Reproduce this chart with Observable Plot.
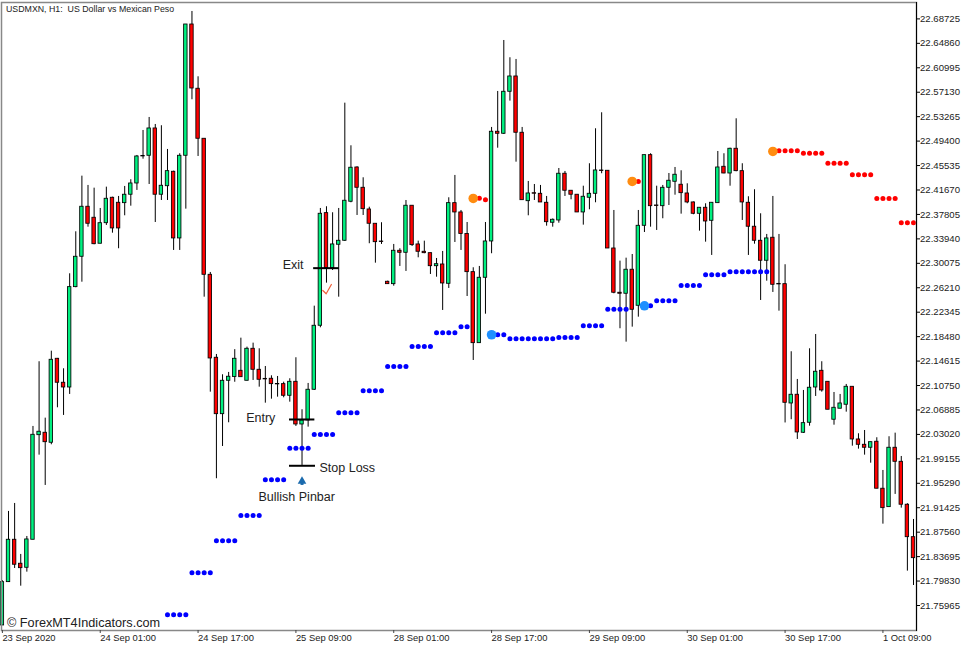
<!DOCTYPE html>
<html><head><meta charset="utf-8">
<script src="https://cdn.jsdelivr.net/npm/d3@7"></script>
<script src="https://cdn.jsdelivr.net/npm/@observablehq/plot@0.6"></script>
<style>html,body{margin:0;padding:0;background:#fff}svg{display:block}</style>
</head><body><div id="chart"></div>
<script>
const opens = [
21.7281,21.7966,21.8636,21.8257,21.8193,21.8636,22.0290,22.0328,22.0170,22.1498,
22.1119,22.1044,22.2631,22.3111,22.3902,22.3728,22.3317,22.3642,22.4044,22.3965,
22.3959,22.4092,22.4270,22.4705,22.4708,22.5140,22.4092,22.4227,22.4455,22.3401,
22.4708,22.6784,22.5768,22.4977,22.2826,22.1514,22.0622,22.1150,22.1210,22.1308,
22.1150,22.1656,22.1324,22.1180,22.1182,22.1100,22.1097,22.0913,22.1134,22.0459,
22.0523,22.1008,22.2020,22.3801,22.2931,22.3301,22.3364,22.3981,22.4523,22.4202,
22.3859,22.3633,22.3352,22.2716,22.2678,22.3206,22.3174,22.3918,22.3306,22.3190,
22.3168,22.2962,22.2989,22.2684,22.3959,22.3812,22.3472,22.2868,22.1745,22.2779,
22.3353,22.5088,22.5056,22.5720,22.5962,22.5072,22.3990,22.4116,22.4107,22.3965,
22.3649,22.3685,22.4424,22.4155,22.4092,22.3812,22.4044,22.4107,22.4475,22.4471,
22.3242,22.2542,22.2526,22.2906,22.2336,22.3601,22.4718,22.3922,22.3911,22.4202,
22.4297,22.4250,22.4112,22.3970,22.3791,22.3886,22.3680,22.3959,22.4534,22.4428,
22.4819,22.4465,22.3965,22.3586,22.3364,22.3048,22.3412,22.2682,22.2678,22.0791,
22.0929,22.0328,22.0486,22.1044,22.1308,22.1134,22.0534,22.0708,22.0771,22.1055,
22.0222,22.0138,22.0091,22.0186,21.9443,21.9152,22.0091,21.9869,21.9190,21.8677];
const closes = [
21.7966,21.8636,21.8241,21.8187,21.8641,22.0296,22.0344,22.0179,22.1482,22.1119,
22.1044,22.2631,22.3111,22.3902,22.3633,22.3310,22.3642,22.4028,22.3559,22.3559,
22.4092,22.4270,22.4697,22.4698,22.5140,22.4092,22.4234,22.4465,22.3401,22.4708,
22.6784,22.5772,22.4977,22.2826,22.1503,22.0622,22.1150,22.1214,22.1498,22.1207,
22.1656,22.1324,22.1166,22.1172,22.1097,22.1093,22.0913,22.1134,22.0459,22.0523,
22.1008,22.2020,22.3791,22.2931,22.3306,22.3364,22.3997,22.4519,22.4202,22.3864,
22.3633,22.3342,22.3344,22.2678,22.3206,22.3174,22.3918,22.3295,22.3190,22.3168,
22.2962,22.2994,22.2689,22.3959,22.3812,22.3472,22.2868,22.1745,22.2779,22.3353,
22.5088,22.5056,22.5720,22.5962,22.5072,22.4006,22.4112,22.4108,22.3970,22.3658,
22.3696,22.4424,22.4155,22.4092,22.3812,22.4060,22.4107,22.4476,22.4467,22.3242,
22.2542,22.2526,22.2906,22.2273,22.3601,22.4718,22.3911,22.3914,22.4202,22.4313,
22.4408,22.4117,22.3970,22.3791,22.3886,22.3669,22.3965,22.4523,22.4428,22.4819,
22.4465,22.3970,22.3586,22.3364,22.3048,22.3401,22.2668,22.2674,22.0802,22.0929,
22.0333,22.0480,22.1040,22.1293,22.0997,22.0692,22.0723,22.0791,22.1055,22.0222,
22.0138,22.0091,22.0179,21.9443,21.9136,22.0091,21.9869,21.9190,21.8677,21.8345];
const highs = [
21.7990,21.9084,21.9210,21.8404,21.8688,22.0428,22.1451,22.0559,22.1618,22.1503,
22.1340,22.2842,22.3506,22.4386,22.4239,22.4196,22.3875,22.4212,22.4053,22.4065,
22.4223,22.4329,22.4713,22.5108,22.5314,22.5203,22.5183,22.4808,22.4465,22.4740,
22.6784,22.6990,22.5957,22.4977,22.2863,22.1566,22.1245,22.1282,22.1642,22.1824,
22.1682,22.1745,22.1656,22.1376,22.1229,22.1218,22.1128,22.1182,22.1514,22.0692,
22.1108,22.2330,22.3875,22.3902,22.3807,22.3875,22.5540,22.4866,22.4534,22.4360,
22.3895,22.3633,22.3649,22.2725,22.3306,22.3238,22.4001,22.3918,22.3358,22.3358,
22.3168,22.3084,22.3195,22.4044,22.4397,22.3843,22.3653,22.2937,22.2958,22.3653,
22.5156,22.5725,22.6531,22.6258,22.6231,22.5156,22.4302,22.4254,22.4239,22.4065,
22.3709,22.4507,22.4460,22.4155,22.4092,22.4227,22.4582,22.5135,22.5388,22.4471,
22.3843,22.3042,22.3089,22.3147,22.3843,22.4718,22.4740,22.4227,22.4239,22.4428,
22.4523,22.4471,22.4265,22.3978,22.3886,22.3949,22.3965,22.4776,22.4740,22.4828,
22.5293,22.4582,22.4060,22.4171,22.3791,22.3464,22.4065,22.3464,22.2985,22.1609,
22.1171,22.0997,22.1656,22.1882,22.1451,22.1134,22.0965,22.0934,22.1092,22.1055,
22.0312,22.0364,22.0179,22.0249,21.9732,22.0265,22.0322,21.9953,21.9206,21.8957];
const lows = [
21.7281,21.7960,21.8182,21.7902,21.8124,21.8636,21.9974,21.9495,22.0138,22.0723,
22.0602,22.0934,22.2621,22.2709,22.3579,22.3301,22.3317,22.3606,22.3484,22.3238,
22.3759,22.3911,22.4160,22.4654,22.4254,22.3653,22.4001,22.4001,22.3211,22.3211,
22.3864,22.5594,22.4697,22.2472,22.0970,21.9601,22.0111,22.0486,22.1127,22.1207,
22.1150,22.1155,22.1049,22.0796,22.0859,22.0891,22.0881,22.0812,22.0428,21.9811,
22.0417,22.0997,22.1988,22.2694,22.2894,22.2472,22.3353,22.3965,22.3764,22.3764,
22.3317,22.3010,22.3306,22.2678,22.2646,22.2958,22.2879,22.3274,22.3095,22.3159,
22.2831,22.2788,22.2262,22.2610,22.3337,22.3211,22.2483,22.1471,22.1745,22.2203,
22.3159,22.4828,22.5045,22.5572,22.4607,22.4006,22.3759,22.4001,22.3970,22.3595,
22.3579,22.3642,22.4065,22.4012,22.3812,22.3611,22.3854,22.3965,22.4424,22.3242,
22.2526,22.1973,22.1761,22.1998,22.2156,22.3495,22.3579,22.3527,22.3712,22.3922,
22.4085,22.3785,22.3949,22.3775,22.3516,22.3342,22.3132,22.3959,22.4424,22.4227,
22.4455,22.3685,22.3132,22.3310,22.2420,22.2725,22.2547,22.2251,22.0483,22.0534,
22.0222,22.0317,22.0432,22.0902,22.0970,22.0692,22.0448,22.0708,22.0654,22.0116,
22.0069,21.9974,21.9847,21.9443,21.8883,21.9152,21.9353,21.9136,21.8140,21.7913];

const blueBars = [27,28,29,30,31,32,33,34,35,36,37,38,39,40,41,42,43,44,45,46,47,48,49,50,51,52,53,54,55,56,57,58,59,60,61,62,63,64,65,66,67,68,69,70,71,72,73,74,75,76,
80,81,82,83,84,85,86,87,88,89,90,91,92,93,94,95,96,97,98,99,100,101,102,
105,106,107,108,109,110,111,112,113,114,115,116,117,118,119,120,121,122,123,124,125];
const blueLevels = [21.7450,21.7450,21.7450,21.7450,21.8114,21.8114,21.8114,21.8114,21.8620,21.8620,21.8620,21.8620,21.9020,21.9020,21.9020,21.9020,21.9585,21.9585,21.9585,21.9585,22.0085,22.0085,22.0085,22.0085,22.0301,22.0301,22.0301,22.0301,22.0644,22.0644,22.0644,22.0644,22.0992,22.0992,22.0992,22.0992,22.1376,22.1376,22.1376,22.1376,22.1693,22.1693,22.1693,22.1693,22.1909,22.1909,22.1909,22.1909,22.2004,22.2004,
22.1878,22.1878,22.1878,22.1814,22.1814,22.1814,22.1814,22.1814,22.1814,22.1814,22.1814,22.1835,22.1835,22.1835,22.1835,22.2020,22.2020,22.2020,22.2020,22.2283,22.2283,22.2283,22.2283,
22.2336,22.2336,22.2415,22.2415,22.2415,22.2415,22.2657,22.2657,22.2657,22.2657,22.2826,22.2826,22.2826,22.2826,22.2874,22.2874,22.2874,22.2874,22.2874,22.2874,22.2874];
const redBars = [78,79,104,127,128,129,130,131,132,133,134,135,136,137,138,139,140,141,142,143,144,145,146,147,148,149];
const redLevels = [22.4038,22.4012,22.4302,22.4787,22.4787,22.4787,22.4787,22.4749,22.4749,22.4749,22.4749,22.4591,22.4591,22.4591,22.4591,22.4408,22.4408,22.4408,22.4408,22.4033,22.4033,22.4033,22.4033,22.3649,22.3649,22.3649];
const startDownBars = [77,103,126];
const startDownLevels = [22.4033,22.4302,22.4776];
const startUpBars = [80,105];
const startUpLevels = [22.1878,22.2336];

const levelNames = ["Exit","Entry","Stop Loss"];
const levelPrices = [22.2931,22.0538,21.9806];
const levelFrom = [50.9,46.95,46.95];
const levelTo = [55.1,51.1,51.2];
const noteTexts = ["Exit","Entry","Stop Loss","Bullish Pinbar"];
const noteBars = [45.84,39.87,51.86,41.88];
const notePrices = [22.2974,22.0559,21.9774,21.9310];
const checkBars = [52.4,52.95,53.8];
const checkPrices = [22.2578,22.2526,22.2673];
const arrowBar = 49;
const arrowStem = [21.9495,21.9530];
const arrowHead = 21.9560;

const priceTicks = [22.68725,22.6486,22.60995,22.5713,22.53265,22.494,22.45535,22.4167,22.37805,22.3394,22.30075,22.2621,22.22345,22.1848,22.14615,22.1075,22.06885,22.0302,21.99155,21.9529,21.91425,21.8756,21.83695,21.7983,21.75965];
const timeTickBars = [0,16,32,48,64,80,96,112,128,144];
const timeTickLabels = ["23 Sep 2020","24 Sep 01:00","24 Sep 17:00","25 Sep 09:00","28 Sep 01:00","28 Sep 17:00","29 Sep 09:00","30 Sep 01:00","30 Sep 17:00","1 Oct 09:00"];
const titleText = "USDMXN, H1:\u00a0\u00a0US Dollar vs Mexican Peso";
const watermark = "\u00a9 ForexMT4Indicators.com";

const bars = opens.map((o,i)=>({i,open:o,close:closes[i],high:highs[i],low:lows[i]}));
const half = 0.28;
const zip = (xs,ys)=>xs.map((x,k)=>({x,y:ys[k]}));
const levels = levelNames.map((n,k)=>({name:n,y:levelPrices[k],x1:levelFrom[k],x2:levelTo[k]}));
const notes = noteTexts.map((t,k)=>({t,x:noteBars[k],y:notePrices[k]}));
const font = "'Liberation Sans', Arial, sans-serif";

const chart = Plot.plot({
  width:977, height:650,
  marginLeft:1, marginTop:2, marginRight:61, marginBottom:20,
  style:{fontFamily:font, background:"#fff", color:"#222"},
  x:{type:"linear", domain:[0,149], range:[1.9,913]},
  y:{type:"linear", domain:[21.75965,22.68725], range:[605,18.4]},
  marks:[
    Plot.ruleX(bars,{x:"i",y1:"low",y2:"high",stroke:"#000",strokeWidth:1}),
    Plot.rect(bars,{filter:d=>d.close>=d.open,x1:d=>d.i-half,x2:d=>d.i+half,y1:"open",y2:"close",fill:"#00f080",stroke:"#000",strokeWidth:0.85}),
    Plot.rect(bars,{filter:d=>d.close<d.open,x1:d=>d.i-half,x2:d=>d.i+half,y1:"open",y2:"close",fill:"#ff0000",stroke:"#000",strokeWidth:0.85}),
    Plot.dot(zip(blueBars,blueLevels),{x:"x",y:"y",r:2.5,fill:"#0000ff"}),
    Plot.dot(zip(redBars,redLevels),{x:"x",y:"y",r:2.5,fill:"#ff0000"}),
    Plot.dot(zip(startDownBars,startDownLevels),{x:"x",y:"y",r:4.8,fill:"#ff8c10"}),
    Plot.dot(zip(startUpBars,startUpLevels),{x:"x",y:"y",r:4.8,fill:"#1e90ff"}),
    Plot.ruleY(levels,{y:"y",x1:"x1",x2:"x2",stroke:"#000",strokeWidth:2}),
    Plot.text(notes,{x:"x",y:"y",text:"t",textAnchor:"start",fontSize:12.5,fill:"#222"}),
    Plot.line(zip(checkBars,checkPrices),{x:"x",y:"y",stroke:"#f0603a",strokeWidth:1.2}),
    Plot.ruleX([arrowBar],{x:d=>d,y1:arrowStem[0],y2:arrowStem[1],stroke:"#1a6aad",strokeWidth:3}),
    Plot.dot([arrowBar],{x:d=>d,y:arrowHead,symbol:"triangle",r:3.2,fill:"#1a6aad"}),
    Plot.frame({stroke:"#888",strokeWidth:1.5}),
    Plot.frame({anchor:"right",stroke:"#000",strokeWidth:1}),
    Plot.axisY({anchor:"right",ticks:priceTicks,tickFormat:d=>d.toFixed(5),tickSize:3,tickPadding:0.5,fontSize:9.6,label:null,stroke:"#000",color:"#222"}),
    Plot.axisX({anchor:"bottom",ticks:timeTickBars,tickFormat:d=>timeTickLabels[timeTickBars.indexOf(d)],tickSize:3,tickPadding:1,textAnchor:"start",fontSize:9.4,label:null,stroke:"#444",color:"#222"}),
    Plot.text([titleText],{text:d=>d,frameAnchor:"top-left",textAnchor:"start",dx:4.5,dy:3,fontSize:8.8,fill:"#222"}),
    Plot.text([watermark],{text:d=>d,frameAnchor:"bottom-left",textAnchor:"start",dx:5.5,dy:-4,fontSize:12.7,fill:"#222"})
  ]
});
document.getElementById("chart").appendChild(chart);
</script>
</body></html>
